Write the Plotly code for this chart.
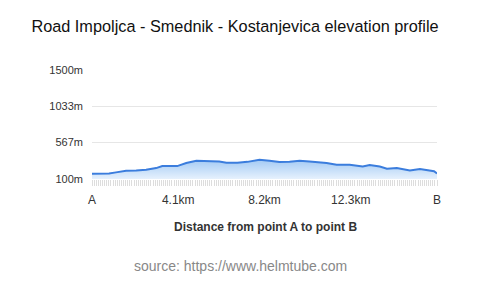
import plotly.graph_objects as go

distance_km = [0, 0.33, 0.81, 1.14, 1.62, 2.10, 2.57, 3.05, 3.34, 4.05, 4.48, 4.96, 5.43,
               6.05, 6.39, 6.91, 7.39, 7.96, 8.44, 8.91, 9.39, 9.87, 10.34, 10.82, 11.15,
               11.63, 12.25, 12.87, 13.20, 13.68, 14.02, 14.49, 15.11, 15.59, 16.07, 16.26, 16.40]
elevation_m = [167, 168, 172, 185, 206, 210, 219, 240, 266, 266, 305, 334, 334,
               325, 309, 308, 320, 347, 335, 317, 322, 334, 325, 317, 305,
               283, 283, 261, 279, 261, 232, 240, 210, 228, 206, 200, 172]

tick_vals = [0, 4.1, 8.2, 12.3, 16.4]
tick_text = ["A", "4.1km", "8.2km", "12.3km", "B"]
y_ticks = [100, 567, 1033, 1500]
y_text = ["100m", "567m", "1033m", "1500m"]

font = "Liberation Sans, Arial, sans-serif"

fig = go.Figure(go.Scatter(
    x=distance_km, y=elevation_m, mode="lines",
    line=dict(color="#3b7ddd", width=2),
    fill="tozeroy",
    fillgradient=dict(type="vertical", start=100, stop=350,
                      colorscale=[[0, "#e6f1fd"], [1, "#a3caf4"]]),
    hoverinfo="skip",
))

fig.update_layout(
    width=480, height=287,
    margin=dict(l=92, r=43, t=70, b=107.5),
    paper_bgcolor="white", plot_bgcolor="white",
    showlegend=False,
    font=dict(family=font, color="#333"),
    title=dict(text="Road Impoljca - Smednik - Kostanjevica elevation profile",
               x=235 / 480, xanchor="center", y=1 - 26 / 287, yanchor="middle", yref="container",
               font=dict(size=16.3, color="#111", family=font)),
    xaxis=dict(range=[0, 16.4], tickmode="array", tickvals=tick_vals, ticktext=tick_text,
               ticks="outside", ticklen=6, tickcolor="#dddddd", ticklabelstandoff=4,
               showgrid=False, zeroline=False, showline=False,
               tickfont=dict(size=12, color="#333"),
               minor=dict(ticks="outside", ticklen=6, tickcolor="#dddddd",
                          tickmode="linear", tick0=0, dtick=0.1, showgrid=False)),
    yaxis=dict(range=[100, 1500], tickmode="array", tickvals=y_ticks, ticktext=y_text,
               showgrid=True, gridcolor="#e6e6e6", gridwidth=1, zeroline=False,
               showline=False, ticks="", ticklabelstandoff=8,
               tickfont=dict(size=11, color="#333")),
    annotations=[
        dict(text="<b>Distance from point A to point B</b>", xref="paper", yref="paper",
             x=(265.5 - 92) / 345, y=(179.5 - 228) / 109.5, xanchor="center", yanchor="middle",
             showarrow=False, font=dict(size=12, color="#333", family=font)),
        dict(text="source: https://www.helmtube.com", xref="paper", yref="paper",
             x=(240 - 92) / 345, y=(179.5 - 267) / 109.5, xanchor="center", yanchor="middle",
             showarrow=False, font=dict(size=14, color="#888", family=font)),
    ],
)

fig.write_html("out.html")
